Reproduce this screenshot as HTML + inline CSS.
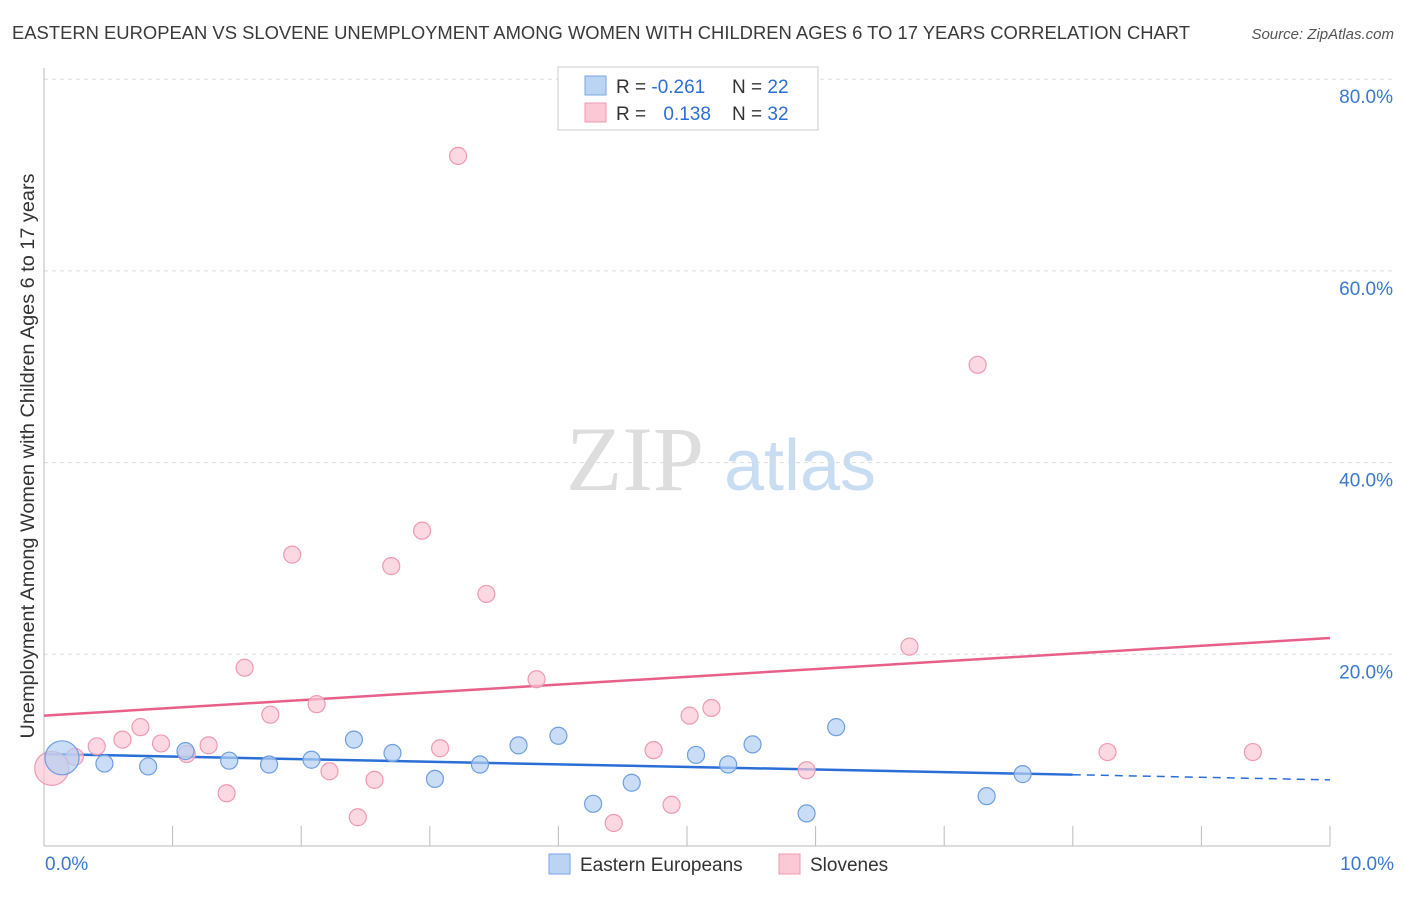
<!DOCTYPE html>
<html><head><meta charset="utf-8"><style>
body{margin:0;background:#fff;font-family:"Liberation Sans",sans-serif}
</style></head><body>
<svg id="c" width="1406" height="892" xmlns="http://www.w3.org/2000/svg" style="font-family:'Liberation Sans',sans-serif">
<text x="12" y="39" font-size="18.4" fill="#3a3a3a" textLength="1178" lengthAdjust="spacingAndGlyphs">EASTERN EUROPEAN VS SLOVENE UNEMPLOYMENT AMONG WOMEN WITH CHILDREN AGES 6 TO 17 YEARS CORRELATION CHART</text>
<text x="1394" y="39" font-size="15" fill="#555" font-style="italic" text-anchor="end">Source: ZipAtlas.com</text>
<text x="34" y="456" font-size="19.5" fill="#333" text-anchor="middle" textLength="565" lengthAdjust="spacingAndGlyphs" transform="rotate(-90 34 456)">Unemployment Among Women with Children Ages 6 to 17 years</text>
<g><text x="635" y="490" font-size="92" fill="#ddd" text-anchor="middle" font-family="Liberation Serif,serif">ZIP</text><text x="800" y="490" font-size="72" fill="#c8dcf2" text-anchor="middle">atlas</text></g>
<g id="grid"></g><g id="axes"></g><g id="lines"></g><g id="pts"></g>
<g>
<rect x="558" y="67" width="260" height="63" fill="#fff" stroke="#ccc"/>
<rect x="585" y="76" width="21" height="19" fill="#bcd4f4" stroke="#7aa6e0"/>
<rect x="585" y="103" width="21" height="19" fill="#fbc8d6" stroke="#ee9ab2"/>
<text x="616" y="93" font-size="19" fill="#333">R = <tspan fill="#2a6fd6">-0.261</tspan></text>
<text x="732" y="93" font-size="19" fill="#333">N = <tspan fill="#2a6fd6">22</tspan></text>
<text x="616" y="120" font-size="19" fill="#333">R = <tspan fill="#2a6fd6" dx="12">0.138</tspan></text>
<text x="732" y="120" font-size="19" fill="#333">N = <tspan fill="#2a6fd6">32</tspan></text>
</g>
<g>
<rect x="549" y="854" width="21" height="20" fill="#bcd4f4" stroke="#7aa6e0"/>
<text x="580" y="871" font-size="19" fill="#333">Eastern Europeans</text>
<rect x="779" y="854" width="21" height="20" fill="#fbc8d6" stroke="#ee9ab2"/>
<text x="810" y="871" font-size="19" fill="#333">Slovenes</text>
</g>
</svg>
<script>
const blueX=[0.14,0.47,0.81,1.10,1.44,1.75,2.08,2.41,2.71,3.04,3.39,3.69,4.00,4.27,4.57,5.07,5.32,5.51,5.93,6.16,7.33,7.61];
const blueY=[9.2,8.6,8.3,9.9,8.9,8.5,9.0,11.1,9.7,7.0,8.5,10.5,11.5,4.4,6.6,9.5,8.5,10.6,3.4,12.4,5.2,7.5];
const pinkX=[0.06,0.24,0.41,0.61,0.75,0.91,1.11,1.28,1.42,1.56,1.76,1.93,2.12,2.22,2.44,2.57,2.70,2.94,3.08,3.22,3.44,3.83,4.43,4.74,4.88,5.02,5.19,5.93,6.73,7.26,8.27,9.40];
const pinkY=[8.1,9.3,10.4,11.1,12.4,10.7,9.6,10.5,5.5,18.6,13.7,30.4,14.8,7.8,3.0,6.9,29.2,32.9,10.2,72.0,26.3,17.4,2.4,10.0,4.3,13.6,14.4,7.9,20.8,50.2,9.8,9.8];
const blueTrend=[9.6,6.9];
const pinkTrend=[13.6,21.7];
const yTicks=[20,40,60,80];
const xTickLabels=["0.0%","10.0%"];
const NS="http://www.w3.org/2000/svg";
const X=v=>44+v*128.6, Y=v=>846-v*9.585;
function mk(p,t,a){const e=document.createElementNS(NS,t);for(const k in a)e.setAttribute(k,a[k]);p.appendChild(e);return e;}
const g=document.getElementById('grid'),ax=document.getElementById('axes'),ln=document.getElementById('lines'),pt=document.getElementById('pts');
yTicks.forEach(v=>{
 const l=mk(g,'line',{x1:44,x2:1394,y1:Y(v),y2:Y(v),stroke:'#ddd','stroke-dasharray':'4,4'});
 
 
 const t=mk(g,'text',{x:1393,y:Y(v)+24,'font-size':19,fill:'#3a78d0','text-anchor':'end'});t.textContent=v.toFixed(1)+'%';
 
 
});
let a=mk(ax,'line',{x1:44,x2:44,y1:68,y2:846,stroke:'#bbb'});


a=mk(ax,'line',{x1:44,x2:1330,y1:846,y2:846,stroke:'#bbb'});


for(let i=0;i<=10;i++){const t=mk(ax,'line',{x1:X(i),x2:X(i),y1:826,y2:846,stroke:'#bbb'});
 
 }
[[0,'start',45],[10,'end',1394]].forEach((d,i)=>{const t=mk(ax,'text',{x:d[2],y:870,'font-size':19,fill:'#3a78d0','text-anchor':d[1]});t.textContent=xTickLabels[i];
 
 });
const bx=(blueTrend[0]+(blueTrend[1]-blueTrend[0])*0.8);
let l=mk(ln,'line',{x1:X(0),y1:Y(blueTrend[0]),x2:X(8),y2:Y(bx),stroke:'#2a6fd6','stroke-width':2.5});


l=mk(ln,'line',{x1:X(8),y1:Y(bx),x2:X(10),y2:Y(blueTrend[1]),stroke:'#2a6fd6','stroke-width':1.5,'stroke-dasharray':'8,6'});


l=mk(ln,'line',{x1:X(0),y1:Y(pinkTrend[0]),x2:X(10),y2:Y(pinkTrend[1]),stroke:'#e8608a','stroke-width':2.5});


pinkX.forEach((x,i)=>{const c=mk(pt,'circle',{cx:X(x),cy:Y(pinkY[i]),r:i==0?17:8.5,fill:'#fbc8d6','fill-opacity':0.7,stroke:'#ee9ab2','stroke-width':1.2});
 
 });
blueX.forEach((x,i)=>{const c=mk(pt,'circle',{cx:X(x),cy:Y(blueY[i]),r:i==0?17:8.5,fill:'#b4cff2','fill-opacity':0.7,stroke:'#6f9fe0','stroke-width':1.2});
 
 });
</script>
</body></html>
